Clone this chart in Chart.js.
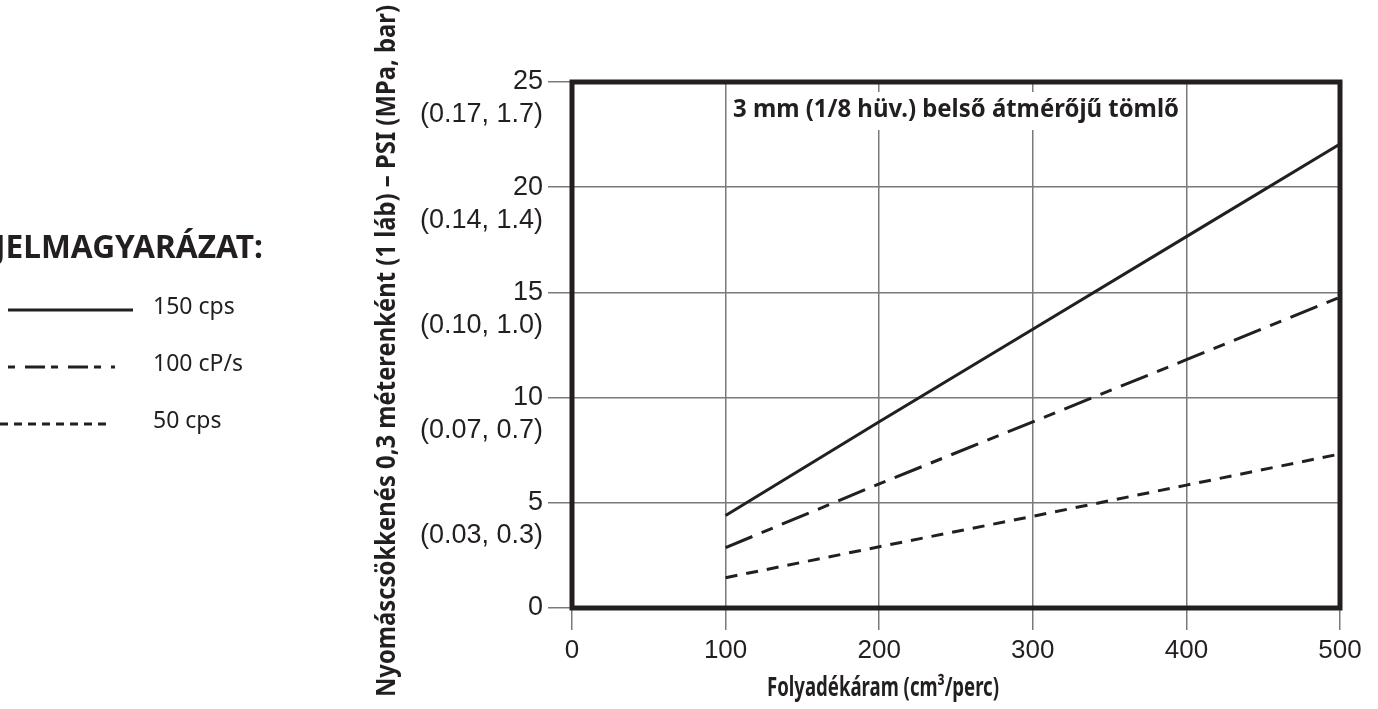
<!DOCTYPE html>
<html>
<head>
<meta charset="utf-8">
<script src="https://cdn.jsdelivr.net/npm/chart.js@4.4.1/dist/chart.umd.min.js"></script>
<style>
  html, body { margin: 0; padding: 0; background: #fff; }
  #wrap { width: 1378px; height: 709px; }
</style>
</head>
<body>
<div id="wrap"><canvas id="chart" width="1378" height="709"></canvas></div>
<script>
// Données
const flowRates = [100, 200, 300, 400, 500];
const drop150 = [4.4, 8.85, 13.25, 17.65, 22.05];
const drop100 = [2.87, 5.9, 8.85, 11.8, 14.77];
const drop50 = [1.44, 2.91, 4.36, 5.84, 7.32];
const seriesLabels = ['150 cps', '100 cP/s', '50 cps'];
const yTickValues = [0, 5, 10, 15, 20, 25];
const yMetricLabels = ['', '(0.03, 0.3)', '(0.07, 0.7)', '(0.10, 1.0)', '(0.14, 1.4)', '(0.17, 1.7)'];
const chartTitle = '3 mm (1/8 hüv.) belső átmérőjű tömlő';
const xTitle = 'Folyadékáram (cm³/perc)';
const yTitle = 'Nyomáscsökkenés 0,3 méterenként (1 láb) – PSI (MPa, bar)';
const legendTitle = 'JELMAGYARÁZAT:';

const INK = '#231f20';
const GRID = '#7a7a7a';
const dashes = [[], [29, 10, 12, 10], [12, 9]];
const legendDashes = [[], [7, 10, 20, 6], [8, 6]];

function toPoints(values) {
  return flowRates.map((x, i) => ({ x: x, y: values[i] }));
}

/**
 * Cadre épais autour de la zone de tracé
 */
const framePlugin = {
  id: 'frame',
  afterDatasetsDraw(chart) {
    const { ctx, chartArea: a } = chart;
    ctx.save();
    ctx.strokeStyle = INK;
    ctx.lineWidth = 5;
    ctx.strokeRect(a.left, a.top, a.right - a.left, a.bottom - a.top);
    ctx.restore();
  }
};

/**
 * Titre dans la zone de tracé, sur fond blanc
 */
const innerTitlePlugin = {
  id: 'innerTitle',
  beforeDatasetsDraw(chart) {
    const { ctx, chartArea: a, scales } = chart;
    const cx = scales.x.getPixelForValue(250);
    const cy = a.top + 28;
    ctx.save();
    ctx.font = 'bold 25px "Noto Sans"';
    const w = Math.min(ctx.measureText(chartTitle).width, 446);
    ctx.fillStyle = '#fff';
    ctx.fillRect(cx - w / 2 - 6, cy - 18, w + 12, 38);
    ctx.fillStyle = INK;
    ctx.textAlign = 'center';
    ctx.textBaseline = 'middle';
    ctx.fillText(chartTitle, cx, cy, 446);
    ctx.restore();
  }
};

/**
 * Titres des axes et légende à gauche
 */
const labelsPlugin = {
  id: 'labels',
  afterDraw(chart) {
    const { ctx } = chart;
    ctx.save();
    ctx.fillStyle = INK;
    ctx.textBaseline = 'middle';

    // axe X
    ctx.font = 'bold 26px "Noto Sans"';
    ctx.textAlign = 'center';
    ctx.fillText(xTitle, 883, 689, 232);

    // axe Y
    ctx.save();
    ctx.translate(388, 351);
    ctx.rotate(-Math.PI / 2);
    ctx.font = 'bold 26px "Noto Sans"';
    ctx.fillText(yTitle, 0, 0, 692);
    ctx.restore();

    // légende
    ctx.font = 'bold 32px "Noto Sans"';
    ctx.textAlign = 'right';
    ctx.fillText(legendTitle, 263, 249, 268);

    const rows = [310, 367, 424];
    const lineEnds = [133, 115, 108];
    ctx.font = '23px "Noto Sans"';
    ctx.textAlign = 'left';
    ctx.strokeStyle = INK;
    ctx.lineWidth = 3;
    seriesLabels.forEach((label, i) => {
      ctx.setLineDash(legendDashes[i]);
      ctx.beginPath();
      ctx.moveTo(i === 2 ? 0 : 8, rows[i]);
      ctx.lineTo(lineEnds[i], rows[i]);
      ctx.stroke();
      ctx.fillText(label, 153, rows[i] - 3);
    });
    ctx.restore();
  }
};

const ctx = document.getElementById('chart').getContext('2d');

new Chart(ctx, {
  type: 'line',
  data: {
    datasets: [drop150, drop100, drop50].map((values, i) => ({
      label: seriesLabels[i],
      data: toPoints(values),
      borderColor: INK,
      borderWidth: 3,
      borderDash: dashes[i],
      pointRadius: 0,
      tension: 0,
      fill: false
    }))
  },
  options: {
    responsive: false,
    animation: false,
    layout: {
      padding: { left: 0, top: 82, right: 38, bottom: 0 }
    },
    plugins: {
      legend: { display: false },
      tooltip: { enabled: false }
    },
    scales: {
      x: {
        type: 'linear',
        min: 0,
        max: 500,
        afterFit: (scale) => { scale.height = 101; },
        border: { display: false },
        grid: { color: GRID, lineWidth: 1.5, tickLength: 22, tickColor: GRID },
        ticks: {
          stepSize: 100,
          padding: 5,
          color: INK,
          font: { family: '"Liberation Sans"', size: 26 }
        }
      },
      y: {
        min: 0,
        max: 25,
        afterFit: (scale) => { scale.width = 572; },
        border: { display: false },
        grid: { color: GRID, lineWidth: 1.5, tickLength: 24, tickColor: GRID },
        ticks: {
          stepSize: 5,
          padding: 5,
          color: INK,
          font: { family: '"Liberation Sans"', size: 27, lineHeight: 33 / 27 },
          callback: (value) => {
            const metric = yMetricLabels[yTickValues.indexOf(value)];
            return metric ? ['', String(value), metric] : String(value);
          }
        }
      }
    }
  },
  plugins: [framePlugin, innerTitlePlugin, labelsPlugin]
});
</script>
</body>
</html>
